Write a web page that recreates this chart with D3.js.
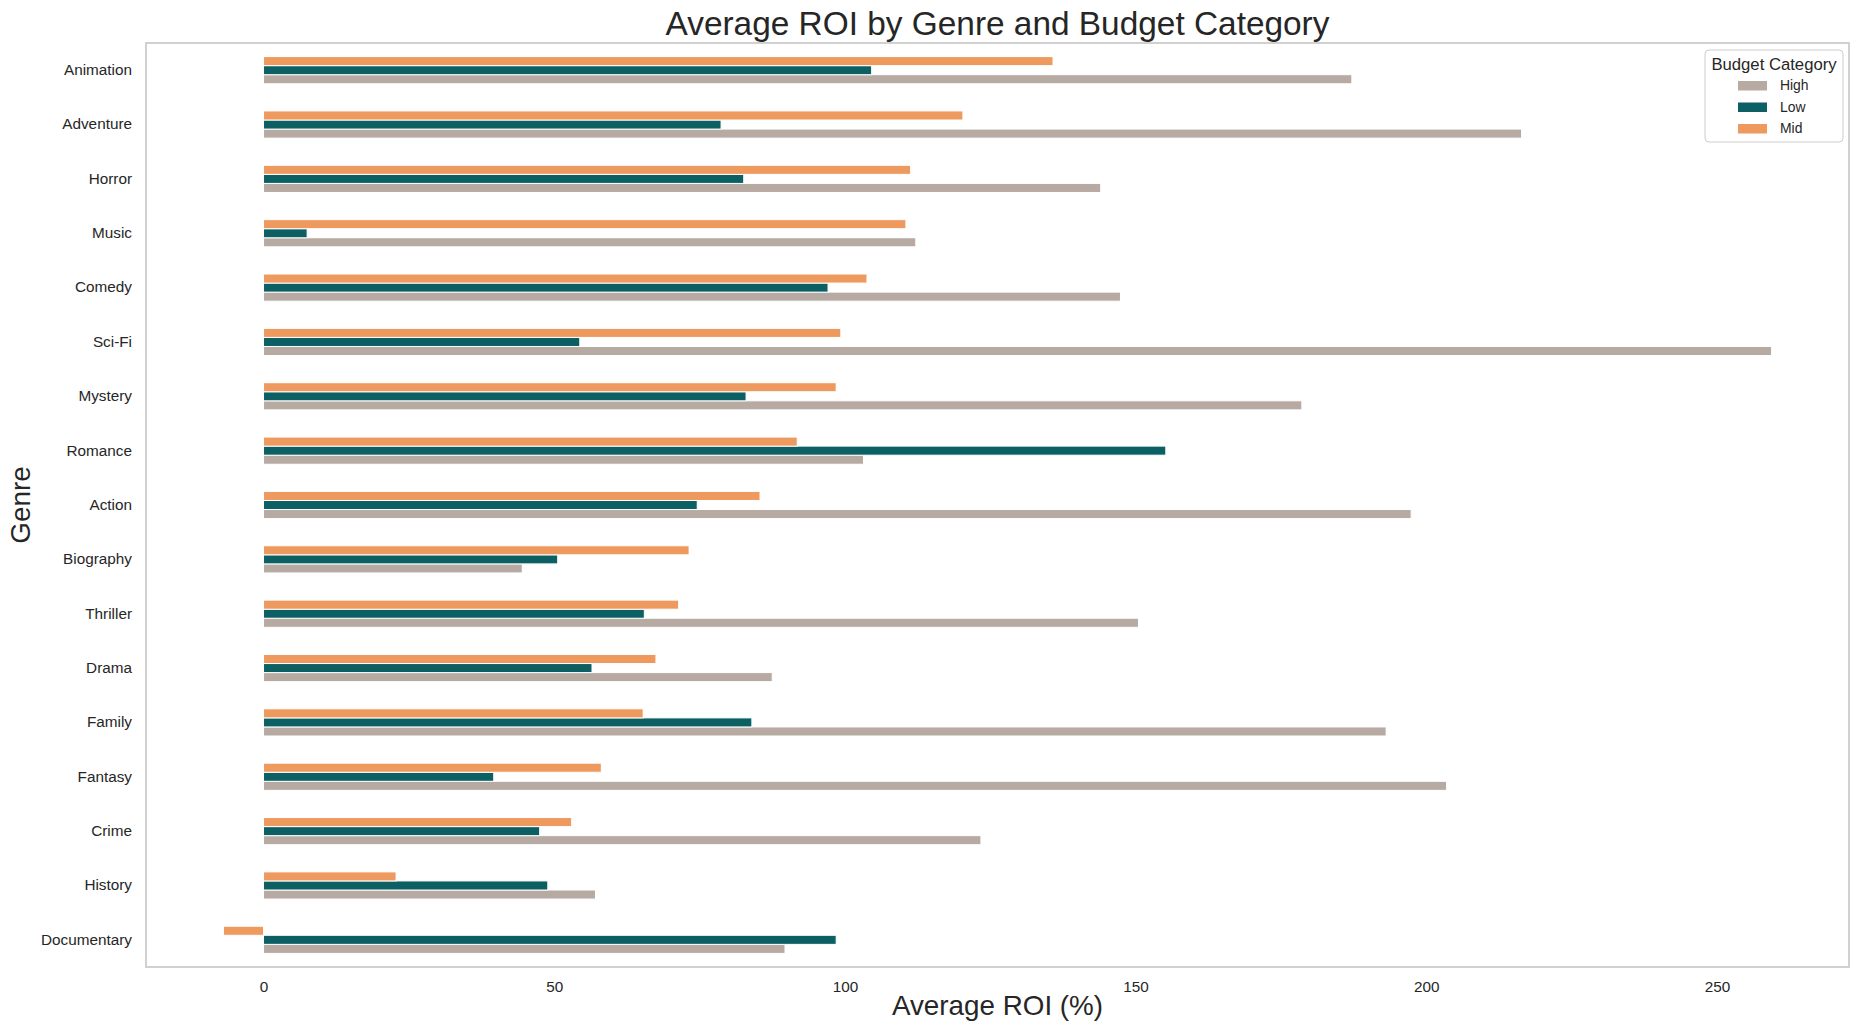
<!DOCTYPE html>
<html>
<head>
<meta charset="utf-8">
<script src="https://cdn.jsdelivr.net/npm/d3@7/dist/d3.min.js"></script>
<style>
  html, body { margin: 0; padding: 0; background: #fff; }
  svg { display: block; font-family: "Liberation Sans", Arial, sans-serif; }
</style>
</head>
<body>
<svg id="chart" width="1860" height="1035"></svg>
<script>
const genres = ["Animation","Adventure","Horror","Music","Comedy","Sci-Fi","Mystery","Romance","Action","Biography","Thriller","Drama","Family","Fantasy","Crime","History","Documentary"];
const highValues = [187.2,216.4,144.0,112.2,147.4,259.4,178.6,103.2,197.4,44.5,150.5,87.5,193.1,203.5,123.4,57.1,89.7];
const lowValues  = [104.6,78.7,82.6,7.5,97.1,54.4,83.0,155.2,74.6,50.6,65.5,56.5,84.0,39.6,47.5,48.9,98.5];
const midValues  = [135.8,120.3,111.3,110.5,103.8,99.3,98.5,91.8,85.4,73.2,71.4,67.5,65.3,58.1,53.0,22.8,-6.9];
const seriesNames = ["High","Low","Mid"];
const seriesColors = ["#b7aaa3","#0c5f63","#ee9a5f"];
const xTicks = [0,50,100,150,200,250];

const svg = d3.select("#chart");
const plot = {left: 146, right: 1849, top: 43, bottom: 967};
const textColor = "#262626";

const seriesValues = [highValues, lowValues, midValues];
const allVals = seriesValues.flat().concat([0]);
const vmin = d3.min(allVals), vmax = d3.max(allVals);
const pad = (vmax - vmin) * 0.05;

const x = d3.scaleLinear().domain([vmin - pad, vmax + pad]).range([plot.left, plot.right]);
const y = d3.scaleBand().domain(genres).range([plot.top, plot.bottom]).padding(0);
const bw = y.bandwidth();
// Within a group: Mid on top, Low middle, High bottom
const ySub = d3.scaleBand().domain(["Mid","Low","High"]).range([bw * 0.25, bw * 0.75]).padding(0);
const color = d3.scaleOrdinal().domain(seriesNames).range(seriesColors);

// bars
const rows = [];
genres.forEach((g, i) => {
  seriesNames.forEach((s, j) => rows.push({genre: g, series: s, value: seriesValues[j][i]}));
});

svg.append("g").selectAll("rect").data(rows).join("rect")
  .attr("x", d => x(Math.min(0, d.value)))
  .attr("width", d => Math.abs(x(d.value) - x(0)))
  .attr("y", d => y(d.genre) + ySub(d.series))
  .attr("height", ySub.bandwidth())
  .attr("fill", d => color(d.series))
  .attr("stroke", "#ffffff")
  .attr("stroke-width", 1);

// frame
svg.append("rect")
  .attr("x", plot.left).attr("y", plot.top)
  .attr("width", plot.right - plot.left).attr("height", plot.bottom - plot.top)
  .attr("fill", "none").attr("stroke", "#cccccc").attr("stroke-width", 1.8);

// x axis
const xAxis = svg.append("g")
  .attr("transform", `translate(0,${plot.bottom})`)
  .call(d3.axisBottom(x).tickValues(xTicks).tickSize(0).tickPadding(14).tickFormat(d3.format("d")));
xAxis.select(".domain").remove();
xAxis.selectAll("text")
  .attr("font-size", "15.3px")
  .attr("font-family", "Liberation Sans, Arial, sans-serif")
  .attr("fill", textColor);

// y axis
const yAxis = svg.append("g")
  .attr("transform", `translate(${plot.left},0)`)
  .call(d3.axisLeft(y).tickSize(0).tickPadding(14));
yAxis.select(".domain").remove();
yAxis.selectAll("text")
  .attr("font-size", "15.3px")
  .attr("font-family", "Liberation Sans, Arial, sans-serif")
  .attr("fill", textColor);

// title
svg.append("text")
  .attr("x", (plot.left + plot.right) / 2).attr("y", 34.5)
  .attr("text-anchor", "middle")
  .attr("font-size", "33.4px").attr("fill", textColor)
  .text("Average ROI by Genre and Budget Category");

// x label
svg.append("text")
  .attr("x", (plot.left + plot.right) / 2).attr("y", 1015)
  .attr("text-anchor", "middle")
  .attr("font-size", "27.8px").attr("fill", textColor)
  .text("Average ROI (%)");

// y label
svg.append("text")
  .attr("transform", `translate(30,${(plot.top + plot.bottom) / 2}) rotate(-90)`)
  .attr("text-anchor", "middle")
  .attr("font-size", "27.8px").attr("fill", textColor)
  .text("Genre");

// legend
const lg = svg.append("g");
lg.append("rect")
  .attr("x", 1705).attr("y", 50).attr("width", 138).attr("height", 92)
  .attr("rx", 4).attr("ry", 4)
  .attr("fill", "#ffffff").attr("fill-opacity", 0.8)
  .attr("stroke", "#cccccc").attr("stroke-width", 1);
lg.append("text")
  .attr("x", 1774).attr("y", 70)
  .attr("text-anchor", "middle")
  .attr("font-size", "16.7px").attr("fill", textColor)
  .text("Budget Category");
const legendY = d3.scalePoint().domain(seriesNames).range([85.5, 128.5]);
const items = lg.selectAll("g.item").data(seriesNames).join("g").attr("class", "item")
  .attr("transform", d => `translate(0,${legendY(d)})`);
items.append("rect")
  .attr("x", 1738).attr("y", -4.5).attr("width", 29).attr("height", 9.5)
  .attr("fill", d => color(d));
items.append("text")
  .attr("x", 1780).attr("y", 0).attr("dy", "0.35em")
  .attr("font-size", "13.9px").attr("fill", textColor)
  .text(d => d);
</script>
</body>
</html>
